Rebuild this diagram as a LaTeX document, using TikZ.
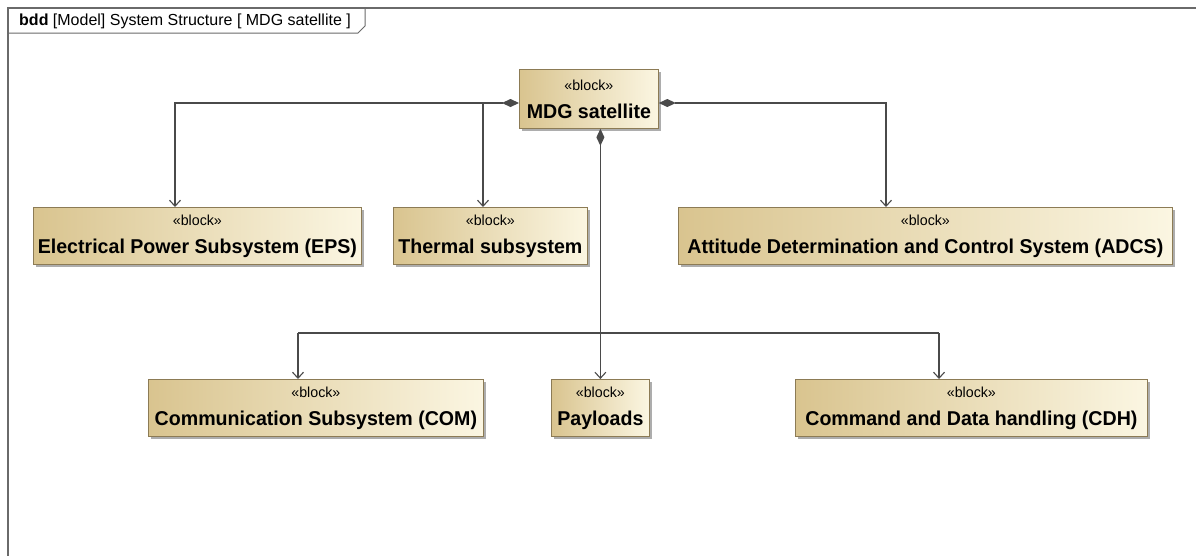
\documentclass[tikz,border=0pt]{standalone}
\usepackage{fontspec}
\setmainfont{Liberation Sans}
\usetikzlibrary{arrows.meta,shadows}

\definecolor{blkdark}{HTML}{D9C48F}
\definecolor{blklight}{HTML}{FBF6E2}
\definecolor{blkedge}{HTML}{8C7B55}
\definecolor{wire}{HTML}{4A4A4A}
\definecolor{framec}{HTML}{6A6A6A}

\newcommand\stereoblock[1]{{\fontsize{14.5}{16}\selectfont «block»}\\{\bfseries #1}}

\tikzset{
  block/.style={draw=blkedge, line width=0.8pt, left color=blkdark, right color=blklight,
    align=center, inner sep=0pt, anchor=north west,
    font=\fontsize{20}{28}\selectfont\addfontfeatures{FakeStretch=0.98},
    drop shadow={shadow xshift=3pt, shadow yshift=-3pt, fill=gray!75, opacity=0.85}},
  wireline/.style={draw=wire, line width=1.1pt},
  comp/.style={wireline, {Diamond[length=17pt,width=8pt]}-{Straight Barb[length=6pt,width=11pt]}},
  plainarrow/.style={wireline, -{Straight Barb[length=6pt,width=11pt]}},
  frameline/.style={draw=framec, line width=1.6pt},
}

\begin{document}
\begin{tikzpicture}[x=1pt, y=-1pt]
  \useasboundingbox (0,0) rectangle (1196,555);
  \fill[white] (0,0) rectangle (1196,555);

  % diagram frame and its heading tab
  \begin{scope}
    \clip (0,0) rectangle (1196,555);
    \draw[frameline] (8,600) -- (8,8) -- (1250,8);
  \end{scope}
  \draw[framec, line width=1pt] (8,33) -- (358,33) -- (365,26) -- (365,8);
  \node[anchor=west, inner sep=0pt, font=\fontsize{16}{18}\selectfont] (title) at (19,21)
    {\textbf{bdd} [Model] System Structure [ MDG satellite ]};

  % blocks
  \node[block, minimum width=139pt, minimum height=59pt] (mdg) at (519,69) {\stereoblock{MDG satellite}};
  \node[block, minimum width=328pt, minimum height=57pt] (eps) at (33,207) {\stereoblock{Electrical Power Subsystem (EPS)}};
  \node[block, minimum width=194pt, minimum height=57pt] (thm) at (393,207) {\stereoblock{Thermal subsystem}};
  \node[block, minimum width=494pt, minimum height=57pt] (adcs) at (678,207) {\stereoblock{Attitude Determination and Control System (ADCS)}};
  \node[block, minimum width=335pt, minimum height=57pt] (com) at (148,379) {\stereoblock{Communication Subsystem (COM)}};
  \node[block, minimum width=98pt, minimum height=57pt] (pay) at (551,379) {\stereoblock{Payloads}};
  \node[block, minimum width=352pt, minimum height=57pt] (cdh) at (795,379) {\stereoblock{Command and Data handling (CDH)}};

  % bend and branch points of the composition lines
  \coordinate (epsx) at (175,103);
  \coordinate (thmx) at (483,103);
  \coordinate (adcsx) at (886,103);
  \coordinate (comx) at (298,333);
  \coordinate (cdhx) at (939,333);

  % upper compositions
  \draw[comp] (mdg.west |- epsx) -| (eps.north -| epsx);
  \draw[plainarrow] (thmx) -- (thm.north -| thmx);
  \draw[comp] (mdg.east |- adcsx) -| (adcs.north -| adcsx);

  % lower compositions
  \draw[comp] (mdg.south -| pay.north) -- (pay.north);
  \draw[wireline] (comx) -- (cdhx);
  \draw[plainarrow] (comx) -- (com.north -| comx);
  \draw[plainarrow] (cdhx) -- (cdh.north -| cdhx);
\end{tikzpicture}
\end{document}
